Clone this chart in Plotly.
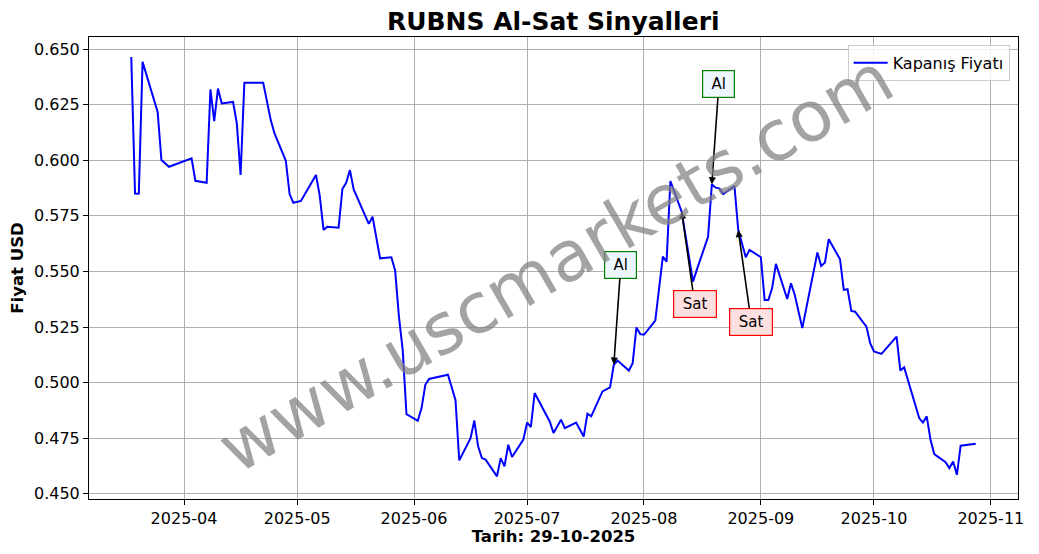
import plotly.graph_objects as go

# --- Closing prices
dates = [
    "2025-03-18", "2025-03-19", "2025-03-20", "2025-03-21", "2025-03-25", "2025-03-26", "2025-03-28",
    "2025-04-03", "2025-04-04", "2025-04-07", "2025-04-08", "2025-04-09", "2025-04-10", "2025-04-11",
    "2025-04-14", "2025-04-15", "2025-04-16", "2025-04-17", "2025-04-22", "2025-04-24", "2025-04-25",
    "2025-04-28", "2025-04-29", "2025-04-30", "2025-05-02", "2025-05-06", "2025-05-07", "2025-05-08",
    "2025-05-09", "2025-05-12", "2025-05-13", "2025-05-14", "2025-05-15", "2025-05-16", "2025-05-20",
    "2025-05-21", "2025-05-23", "2025-05-26", "2025-05-27", "2025-05-28", "2025-05-29", "2025-05-30",
    "2025-06-02", "2025-06-03", "2025-06-04", "2025-06-05", "2025-06-10", "2025-06-12", "2025-06-13",
    "2025-06-16", "2025-06-17", "2025-06-18", "2025-06-19", "2025-06-20", "2025-06-23", "2025-06-24",
    "2025-06-25", "2025-06-26", "2025-06-27", "2025-06-30", "2025-07-01", "2025-07-02", "2025-07-03",
    "2025-07-07", "2025-07-08", "2025-07-10", "2025-07-11", "2025-07-14", "2025-07-16", "2025-07-17",
    "2025-07-18", "2025-07-21", "2025-07-23", "2025-07-24", "2025-07-25", "2025-07-28", "2025-07-29",
    "2025-07-30", "2025-07-31", "2025-08-01", "2025-08-04", "2025-08-06", "2025-08-07", "2025-08-08",
    "2025-08-11", "2025-08-14", "2025-08-15", "2025-08-18", "2025-08-19", "2025-08-20", "2025-08-21",
    "2025-08-22", "2025-08-25", "2025-08-26", "2025-08-28", "2025-08-29", "2025-09-01", "2025-09-02",
    "2025-09-03", "2025-09-04", "2025-09-05", "2025-09-08", "2025-09-09", "2025-09-10", "2025-09-12",
    "2025-09-16", "2025-09-17", "2025-09-18", "2025-09-19", "2025-09-22", "2025-09-23", "2025-09-24",
    "2025-09-25", "2025-09-26", "2025-09-29", "2025-09-30", "2025-10-01", "2025-10-03", "2025-10-07",
    "2025-10-08", "2025-10-09", "2025-10-13", "2025-10-14", "2025-10-15", "2025-10-16", "2025-10-17",
    "2025-10-20", "2025-10-21", "2025-10-22", "2025-10-23", "2025-10-24", "2025-10-28",
]
prices = [
    0.6465, 0.5851, 0.5850, 0.6443, 0.6218, 0.6001, 0.5971,
    0.6009, 0.5908, 0.5899, 0.6319, 0.6176, 0.6323, 0.6256,
    0.6263, 0.6166, 0.5934, 0.6349, 0.6349, 0.6181, 0.6121,
    0.5998, 0.5848, 0.5809, 0.5817, 0.5934, 0.5840, 0.5687,
    0.5701, 0.5697, 0.5871, 0.5899, 0.5956, 0.5869, 0.5714,
    0.5746, 0.5559, 0.5564, 0.5503, 0.5297, 0.5147, 0.4858,
    0.4828, 0.4885, 0.4990, 0.5016, 0.5035, 0.4922, 0.4650,
    0.4750, 0.4829, 0.4713, 0.4660, 0.4653, 0.4578, 0.4660,
    0.4623, 0.4720, 0.4665, 0.4743, 0.4820, 0.4800, 0.4953,
    0.4825, 0.4773, 0.4833, 0.4795, 0.4820, 0.4757, 0.4860,
    0.4848, 0.4960, 0.4978, 0.5080, 0.5099, 0.5054, 0.5087,
    0.5248, 0.5218, 0.5215, 0.5279, 0.5567, 0.5544, 0.5907,
    0.5769, 0.5454, 0.5507, 0.5656, 0.5892, 0.5877, 0.5874,
    0.5848, 0.5884, 0.5687, 0.5564, 0.5597, 0.5564, 0.5372,
    0.5372, 0.5425, 0.5534, 0.5376, 0.5447, 0.5394, 0.5245,
    0.5585, 0.5525, 0.5540, 0.5645, 0.5555, 0.5417, 0.5420,
    0.5322, 0.5319, 0.5252, 0.5177, 0.5140, 0.5129, 0.5207,
    0.5054, 0.5069, 0.4840, 0.4820, 0.4848, 0.4743, 0.4678,
    0.4642, 0.4615, 0.4645, 0.4585, 0.4716, 0.4725,
]

# Buy / sell signals
signal_dates = ["2025-07-24", "2025-08-11", "2025-08-19", "2025-08-26"]
signal_types = ["Al", "Sat", "Al", "Sat"]

month_ticks = ["2025-04-01", "2025-05-01", "2025-06-01", "2025-07-01",
               "2025-08-01", "2025-09-01", "2025-10-01", "2025-11-01"]
price_ticks = [0.450, 0.475, 0.500, 0.525, 0.550, 0.575, 0.600, 0.625, 0.650]

FONT = "DejaVu Sans"

fig = go.Figure()
fig.add_trace(go.Scatter(x=dates, y=prices, mode="lines", name="Kapanış Fiyatı",
                         line=dict(color="#0000ff", width=2)))

# signal annotations
for d, kind in zip(signal_dates, signal_types):
    p = prices[dates.index(d)]
    if kind == "Al":
        edge, fill, ay, ax, w = "green", "#eef6ff", -100, 7, 23
    else:
        edge, fill, ay, ax, w = "red", "#ffe0e0", 92, 13, 34
    fig.add_annotation(x=d, y=p, text=kind, showarrow=True,
                       ax=ax, ay=ay, width=w,
                       arrowhead=2, arrowsize=0.9, arrowwidth=1.6, arrowcolor="black",
                       font=dict(family=FONT, size=15, color="black"),
                       bgcolor=fill, bordercolor=edge, borderwidth=1.2, borderpad=4)

# watermark
fig.add_annotation(text="www.uscmarkets.com", xref="paper", yref="paper",
                   x=0.503, y=0.51, showarrow=False, textangle=-30,
                   font=dict(family=FONT, size=70, color="rgba(128,128,128,0.72)"))

fig.update_layout(
    width=1023, height=538,
    margin=dict(l=81, r=13, t=29, b=47),
    paper_bgcolor="white", plot_bgcolor="white",
    font=dict(family=FONT, size=16, color="black"),
    title=dict(text="<b>RUBNS Al-Sat Sinyalleri</b>", x=0.533, xanchor="center",
               y=0.976, yanchor="middle", font=dict(family=FONT, size=25)),
    showlegend=True,
    legend=dict(x=0.991, y=0.983, xanchor="right", yanchor="top", itemwidth=34,
                bgcolor="rgba(255,255,255,0.8)", bordercolor="#cccccc", borderwidth=1,
                font=dict(family=FONT, size=16)),
    xaxis=dict(range=["2025-03-06 19:00", "2025-11-08 05:00"],
               tickvals=month_ticks, tickformat="%Y-%m", automargin=False,
               showgrid=True, gridcolor="#b0b0b0", gridwidth=1,
               showline=True, linecolor="black", linewidth=1, mirror=True,
               ticks="outside", ticklen=5, tickcolor="black",
               title=dict(text="<b>Tarih: 29-10-2025</b>", standoff=4,
                          font=dict(family=FONT, size=16.5))),
    yaxis=dict(range=[0.4476, 0.6555], tickvals=price_ticks, tickformat=".3f",
               automargin=False,
               showgrid=True, gridcolor="#b0b0b0", gridwidth=1,
               showline=True, linecolor="black", linewidth=1, mirror=True,
               ticks="outside", ticklen=5, tickcolor="black",
               title=dict(text="<b>Fiyat USD</b>", standoff=8,
                          font=dict(family=FONT, size=16.5))),
)

fig.write_html("out.html")
